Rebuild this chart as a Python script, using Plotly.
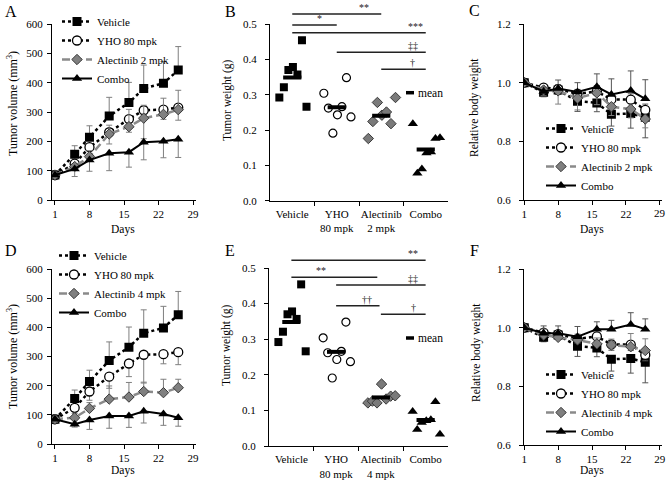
import numpy as np
import plotly.graph_objects as go

FONT = "'Liberation Serif', 'Times New Roman', Times, serif"

# ---------------- data ----------------
days = [1, 5, 8, 12, 16, 19, 23, 26]
day_ticks = [1, 8, 15, 22, 29]

# tumor volume (mm3) - shared controls
vol_vehicle = [85, 156, 214, 286, 332, 380, 398, 443]
vol_vehicle_err = [0, 29, 39, 64, 69, 80, 74, 80]
vol_yho = [85, 124, 180, 231, 276, 306, 308, 315]
vol_yho_err = [0, 12, 30, 40, 45, 97, 33, 43]
# panel A (alectinib 2 mpk study)
volA_alec = [85, 114, 148, 225, 250, 279, 292, 308]
volA_alec_err = [0, 10, 20, 30, 59, 44, 55, 66]
volA_combo = [85, 106, 136, 159, 163, 197, 200, 207]
volA_combo_err = [0, 26, 38, 59, 51, 60, 56, 62]
# panel D (alectinib 4 mpk study)
volD_alec = [85, 90, 122, 154, 161, 180, 176, 193]
volD_alec_err = [0, 15, 20, 45, 50, 32, 46, 29]
volD_combo = [85, 68, 82, 96, 96, 112, 103, 90]
volD_combo_err = [0, 10, 32, 42, 39, 40, 39, 29]

# relative body weight - shared controls
bw_vehicle = [1.0, 0.967, 0.975, 0.937, 0.931, 0.892, 0.895, 0.882]
bw_vehicle_err = [0, 0.015, 0.015, 0.035, 0.03, 0.04, 0.05, 0.07]
bw_yho = [1.0, 0.983, 0.978, 0.962, 0.970, 0.943, 0.942, 0.907]
bw_yho_err = [0, 0.01, 0.015, 0.015, 0.02, 0.02, 0.02, 0.02]
# panel C
bwC_alec = [1.0, 0.975, 0.972, 0.947, 0.965, 0.918, 0.910, 0.876]
bwC_alec_err = [0, 0.02, 0.045, 0.04, 0.04, 0.03, 0.03, 0.03]
bwC_combo = [1.0, 0.970, 0.980, 0.968, 0.986, 0.960, 0.973, 0.945]
bwC_combo_err = [0, 0.015, 0.029, 0.032, 0.044, 0.053, 0.067, 0.065]
# panel F
bwF_alec = [1.0, 0.975, 0.967, 0.958, 0.945, 0.941, 0.935, 0.922]
bwF_alec_err = [0, 0.02, 0.02, 0.02, 0.02, 0.02, 0.045, 0.04]
bwF_combo = [1.0, 0.981, 0.981, 0.969, 0.995, 0.995, 1.011, 0.995]
bwF_combo_err = [0, 0.025, 0.025, 0.035, 0.025, 0.03, 0.04, 0.035]

# tumor weight (g), individual animals
tw_vehicle = [0.292, 0.321, 0.370, 0.378, 0.357, 0.454, 0.266]
tw_yho = [0.304, 0.262, 0.191, 0.243, 0.266, 0.348, 0.237]
twB_alec = [0.176, 0.224, 0.278, 0.242, 0.251, 0.218, 0.292]
twB_combo = [0.218, 0.078, 0.090, 0.135, 0.138, 0.176, 0.178]
twE_alec = [0.121, 0.126, 0.121, 0.174, 0.132, 0.140, 0.141]
twE_combo = [0.097, 0.046, 0.066, 0.071, 0.074, 0.124, 0.033]

catB = ["Vehicle", "YHO<br>80 mpk", "Alectinib<br>2 mpk", "Combo"]
catE = ["Vehicle", "YHO<br>80 mpk", "Alectinib<br>4 mpk", "Combo"]

namesA = ["Vehicle", "YHO 80 mpk", "Alectinib 2 mpk", "Combo"]
namesD = ["Vehicle", "YHO 80 mpk", "Alectinib 4 mpk", "Combo"]

# significance bars: (from category, to category, level, label, label position)
sigB = [(0, 2, 0.528, "**", 1.61), (0, 1, 0.497, "*", 0.62), (0, 3, 0.475, "***", 2.76),
        (1, 3, 0.420, "‡‡", 2.71), (2, 3, 0.372, "†", 2.71)]
sigE = [(0, 3, 0.522, "**", 2.72), (0, 1.92, 0.474, "**", 0.66), (1, 3, 0.452, "‡‡", 2.72),
        (1, 1.97, 0.394, "††", 1.69), (2, 3, 0.370, "†", 2.72)]

# ---------------- styles ----------------
STY = {
    "vehicle": dict(line=dict(color="black", width=2.5, dash="3px,3px"),
                    marker=dict(symbol="square", size=9, color="black")),
    "yho": dict(line=dict(color="black", width=2.5, dash="3px,3px"),
                marker=dict(symbol="circle", size=9, color="white", line=dict(color="black", width=1.3))),
    "alec": dict(line=dict(color="#8a8a8a", width=2.5, dash="8px,4px"),
                 marker=dict(symbol="diamond", size=8, color="#808080", line=dict(color="#3a3a3a", width=1))),
    "combo": dict(line=dict(color="black", width=2),
                  marker=dict(symbol="triangle-up", size=9, color="black")),
}
PTS = {
    "vehicle": dict(symbol="square", size=8, color="black"),
    "yho": dict(symbol="circle", size=8, color="white", line=dict(color="black", width=1.2)),
    "alec": dict(symbol="diamond", size=8, color="#7a7a7a", line=dict(color="#3a3a3a", width=1)),
    "combo": dict(symbol="triangle-up", size=9, color="black"),
}

fig = go.Figure()


def add_line(x, y, err, kind, name, xa, ya, legend, direction, ecol):
    n = len(err)
    zeros = [0] * n
    if direction == "plus":
        ey = dict(type="data", symmetric=False, array=err, arrayminus=zeros)
    else:
        ey = dict(type="data", symmetric=False, array=zeros, arrayminus=err)
    ey.update(color=ecol, thickness=1, width=3)
    fig.add_trace(go.Scatter(x=x, y=y, name=name, mode="lines+markers", xaxis=xa, yaxis=ya,
                             legend=legend, error_y=ey, **STY[kind]))


# Panel A
add_line(days, vol_vehicle, vol_vehicle_err, "vehicle", namesA[0], "x", "y", "legend", "plus", "#7f7f7f")
add_line(days, vol_yho, vol_yho_err, "yho", namesA[1], "x", "y", "legend", "minus", "#7f7f7f")
add_line(days, volA_alec, volA_alec_err, "alec", namesA[2], "x", "y", "legend", "plus", "#7f7f7f")
add_line(days, volA_combo, volA_combo_err, "combo", namesA[3], "x", "y", "legend", "minus", "#7f7f7f")
# Panel D
add_line(days, vol_vehicle, vol_vehicle_err, "vehicle", namesD[0], "x4", "y4", "legend3", "plus", "#7f7f7f")
add_line(days, vol_yho, vol_yho_err, "yho", namesD[1], "x4", "y4", "legend3", "minus", "#7f7f7f")
add_line(days, volD_alec, volD_alec_err, "alec", namesD[2], "x4", "y4", "legend3", "plus", "#7f7f7f")
add_line(days, volD_combo, volD_combo_err, "combo", namesD[3], "x4", "y4", "legend3", "minus", "#7f7f7f")
# Panel C
add_line(days, bw_vehicle, bw_vehicle_err, "vehicle", namesA[0], "x3", "y3", "legend2", "minus", "#555555")
add_line(days, bw_yho, bw_yho_err, "yho", namesA[1], "x3", "y3", "legend2", "plus", "#555555")
add_line(days, bwC_alec, bwC_alec_err, "alec", namesA[2], "x3", "y3", "legend2", "minus", "#808080")
add_line(days, bwC_combo, bwC_combo_err, "combo", namesA[3], "x3", "y3", "legend2", "plus", "#555555")
# Panel F
add_line(days, bw_vehicle, bw_vehicle_err, "vehicle", namesD[0], "x6", "y6", "legend4", "minus", "#555555")
add_line(days, bw_yho, bw_yho_err, "yho", namesD[1], "x6", "y6", "legend4", "minus", "#555555")
add_line(days, bwF_alec, bwF_alec_err, "alec", namesD[2], "x6", "y6", "legend4", "plus", "#808080")
add_line(days, bwF_combo, bwF_combo_err, "combo", namesD[3], "x6", "y6", "legend4", "plus", "#555555")


def add_dots(groups, xa, ya):
    for i, (vals, kind) in enumerate(groups):
        offs = np.linspace(-0.29, 0.32, len(vals))
        fig.add_trace(go.Scatter(x=i + offs, y=vals, mode="markers", xaxis=xa, yaxis=ya,
                                 marker=PTS[kind], showlegend=False))
    fig.add_trace(go.Scatter(x=list(range(len(groups))), y=[float(np.mean(v)) for v, _ in groups],
                             mode="markers", xaxis=xa, yaxis=ya, showlegend=False,
                             marker=dict(symbol="line-ew", size=13, line=dict(width=4, color="black"))))


add_dots([(tw_vehicle, "vehicle"), (tw_yho, "yho"), (twB_alec, "alec"), (twB_combo, "combo")], "x2", "y2")
add_dots([(tw_vehicle, "vehicle"), (tw_yho, "yho"), (twE_alec, "alec"), (twE_combo, "combo")], "x5", "y5")

# ---------------- layout ----------------
W, H = 668, 480


def px(a, b):
    return [a / W, b / W]


def py(top, bottom):
    return [1 - bottom / H, 1 - top / H]


tickfont = dict(family=FONT, size=11, color="black")
base = dict(showline=True, linecolor="black", linewidth=1, ticks="outside", ticklen=4,
            tickcolor="black", tickwidth=1, showgrid=False, zeroline=False, tickfont=tickfont,
            automargin=False, ticklabeloverflow="allow")


def xday(dom, anchor, rng, last_label=True):
    txt = [str(d) for d in day_ticks]
    if not last_label:
        txt[-1] = ""
    return dict(base, domain=dom, anchor=anchor, range=rng, tickmode="array",
                tickvals=day_ticks, ticktext=txt)


def xcat(dom, anchor, labels):
    return dict(base, domain=dom, anchor=anchor, range=[-0.5, 3.5], tickvals=[0, 1, 2, 3],
                ticktext=labels, ticks="", ticklabelstandoff=3,
                minor=dict(tickvals=[0.5, 1.5, 2.5], ticks="outside", ticklen=4,
                           tickcolor="black", tickwidth=1))


yvol = dict(base, range=[0, 600], tickvals=[0, 100, 200, 300, 400, 500, 600], ticklabelstandoff=2)
ytw = dict(base, range=[0, 0.5], tickvals=[0, 0.1, 0.2, 0.3, 0.4, 0.5], tickformat=".1f",
           ticklabelstandoff=6)
ybw = dict(base, range=[0.6, 1.2], tickvals=[0.6, 0.8, 1.0, 1.2], tickformat=".1f", ticklabelstandoff=6)

legfont = dict(family=FONT, size=11, color="black")


def leg(xpix, ytop):
    return dict(x=xpix / W, y=1 - ytop / H, xref="container", yref="container",
                xanchor="left", yanchor="top", bgcolor="rgba(0,0,0,0)",
                font=legfont, itemwidth=30, tracegroupgap=0)


fig.update_layout(
    template="none",
    width=W, height=H, margin=dict(l=0, r=0, t=0, b=0, pad=0, autoexpand=False),
    plot_bgcolor="rgba(0,0,0,0)", paper_bgcolor="white",
    font=dict(family=FONT, size=11, color="black"),
    xaxis=xday(px(52, 195.5), "y", [0.4, 29.5]),
    yaxis=dict(yvol, domain=py(24, 200), anchor="x"),
    xaxis2=xcat(px(270, 448), "y2", catB),
    yaxis2=dict(ytw, domain=py(24, 200.7), anchor="x2"),
    xaxis3=xday(px(524, 661.5), "y3", [0.95, 29.35], last_label=False),
    yaxis3=dict(ybw, domain=py(24, 200), anchor="x3"),
    xaxis4=xday(px(52, 195.5), "y4", [0.4, 29.5]),
    yaxis4=dict(yvol, domain=py(269, 444), anchor="x4"),
    xaxis5=xcat(px(269, 448), "y5", catE),
    yaxis5=dict(ytw, domain=py(268, 446), anchor="x5"),
    xaxis6=xday(px(524, 661.5), "y6", [0.95, 29.35]),
    yaxis6=dict(ybw, domain=py(269, 445), anchor="x6"),
    legend=leg(57, 7),
    legend2=leg(541, 114),
    legend3=leg(54, 241),
    legend4=leg(541, 360),
)

shapes = []
annots = []

# last day tick label of panel C, placed on its own axis
annots.append(dict(text=str(day_ticks[-1]), xref="x3", yref="y3 domain", x=day_ticks[-1], y=0,
                   xanchor="center", yanchor="top", yshift=-5, showarrow=False,
                   font=dict(family=FONT, size=11, color="black")))

# axis titles
TITLES = [
    ("Tumor volume (mm<sup>3</sup>)", 12, 104, -90, 12),
    ("Tumor weight (g)", 227, 100, -90, 11.5),
    ("Relative body weight", 475, 108, -90, 11.5),
    ("Tumor volume (mm<sup>3</sup>)", 12, 357, -90, 12),
    ("Tumor weight (g)", 226, 345, -90, 11.5),
    ("Relative body weight", 476, 352, -90, 11.5),
    ("Days", 123, 229, 0, 11.5),
    ("Days", 592, 229, 0, 11.5),
    ("Days", 123, 470, 0, 11.5),
    ("Days", 592, 470, 0, 11.5),
]
for txt, xp, yp, ang, fs in TITLES:
    annots.append(dict(text=txt, xref="paper", yref="paper", x=xp / W, y=1 - yp / H,
                       xanchor="center", yanchor="middle", textangle=ang, showarrow=False,
                       font=dict(family=FONT, size=fs, color="black")))

# significance bars
for sig, xa, ya in [(sigB, "x2", "y2"), (sigE, "x5", "y5")]:
    for a, b, lvl, txt, tx in sig:
        shapes.append(dict(type="line", xref=xa + " domain", yref=ya + " domain",
                           x0=(a + 0.5) / 4, x1=(b + 0.5) / 4, y0=lvl / 0.5, y1=lvl / 0.5,
                           line=dict(color="#222222", width=1.5)))
        annots.append(dict(text=txt, xref=xa + " domain", yref=ya + " domain", x=(tx + 0.5) / 4,
                           y=lvl / 0.5, yanchor="bottom", xanchor="center", showarrow=False,
                           font=dict(family=FONT, size=10, color="#222222"), yshift=-1))

# "mean" keys
for ypix in [92.7, 338]:
    shapes.append(dict(type="line", xref="paper", yref="paper", x0=406 / W, x1=414 / W,
                       y0=1 - ypix / H, y1=1 - ypix / H, line=dict(color="black", width=3.5)))
    annots.append(dict(text="mean", xref="paper", yref="paper", x=415.5 / W, y=1 - ypix / H,
                       xanchor="left", yanchor="middle", showarrow=False,
                       font=dict(family=FONT, size=11.5, color="black")))

# panel letters
for letter, xp, yp in [("A", 11, 11), ("B", 230, 11), ("C", 474, 10),
                       ("D", 11, 250), ("E", 230, 250), ("F", 474, 250)]:
    annots.append(dict(text=letter, xref="paper", yref="paper", x=xp / W, y=1 - yp / H,
                       xanchor="center", yanchor="middle", showarrow=False,
                       font=dict(family=FONT, size=16, color="black")))

fig.update_layout(shapes=shapes, annotations=annots)

fig.write_html("out.html", config={"displayModeBar": False},
               post_script="document.body.style.margin='0px';")
